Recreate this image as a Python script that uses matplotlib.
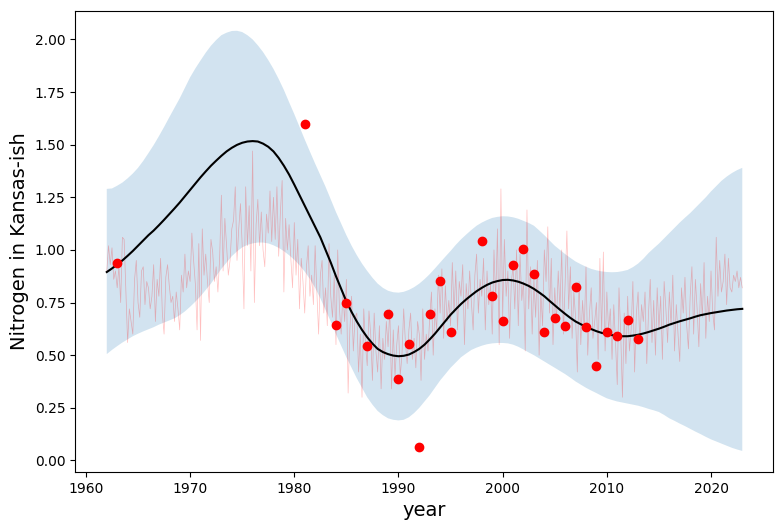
import numpy as np
import matplotlib
matplotlib.use('Agg')
import matplotlib.pyplot as plt

# half-yearly readings of the fitted curve and its band
years = np.arange(1962, 2023.5, 0.5)
mean = [0.895, 0.912, 0.93, 0.95, 0.972, 0.995, 1.02, 1.045, 1.07, 1.092,
        1.117, 1.143, 1.17, 1.197, 1.225, 1.255, 1.285, 1.315, 1.345, 1.373,
        1.40, 1.424, 1.447, 1.468, 1.485, 1.499, 1.509, 1.515, 1.517, 1.515,
        1.505, 1.49, 1.468, 1.437, 1.40, 1.358, 1.31, 1.26, 1.21, 1.16,
        1.11, 1.06, 1.00, 0.94, 0.875, 0.815, 0.755, 0.705, 0.66, 0.62,
        0.585, 0.555, 0.53, 0.515, 0.505, 0.498, 0.495, 0.497, 0.503, 0.515,
        0.53, 0.55, 0.575, 0.602, 0.632, 0.662, 0.692, 0.718, 0.743, 0.765,
        0.785, 0.804, 0.82, 0.834, 0.845, 0.852, 0.857, 0.858, 0.855, 0.849,
        0.84, 0.829, 0.815, 0.798, 0.78, 0.758, 0.737, 0.716, 0.696, 0.677,
        0.66, 0.647, 0.635, 0.624, 0.614, 0.606, 0.60, 0.595, 0.592, 0.59,
        0.59, 0.593, 0.597, 0.603, 0.61, 0.618, 0.626, 0.635, 0.645, 0.653,
        0.661, 0.668, 0.675, 0.683, 0.69, 0.695, 0.70, 0.704, 0.708, 0.712,
        0.715, 0.718, 0.72]
upper = [1.29, 1.292, 1.305, 1.32, 1.34, 1.363, 1.39, 1.423, 1.46, 1.498,
         1.54, 1.584, 1.63, 1.675, 1.72, 1.77, 1.82, 1.862, 1.90, 1.937,
         1.97, 1.997, 2.02, 2.032, 2.04, 2.041, 2.035, 2.02, 2.00, 1.972,
         1.94, 1.902, 1.86, 1.812, 1.76, 1.702, 1.645, 1.585, 1.525, 1.467,
         1.41, 1.355, 1.30, 1.24, 1.18, 1.125, 1.07, 1.02, 0.975, 0.935,
         0.90, 0.868, 0.84, 0.82, 0.806, 0.799, 0.797, 0.801, 0.81, 0.823,
         0.84, 0.861, 0.885, 0.912, 0.94, 0.968, 0.995, 1.024, 1.05, 1.073,
         1.095, 1.115, 1.13, 1.142, 1.152, 1.157, 1.16, 1.159, 1.155, 1.148,
         1.138, 1.128, 1.115, 1.093, 1.07, 1.045, 1.02, 1.00, 0.98, 0.962,
         0.945, 0.932, 0.92, 0.91, 0.903, 0.898, 0.895, 0.894, 0.895, 0.899,
         0.905, 0.918, 0.935, 0.958, 0.985, 1.008, 1.03, 1.055, 1.08, 1.105,
         1.13, 1.153, 1.175, 1.20, 1.225, 1.25, 1.278, 1.303, 1.328, 1.348,
         1.365, 1.379, 1.39]
lower = [0.505, 0.525, 0.543, 0.56, 0.575, 0.59, 0.602, 0.613, 0.623, 0.633,
         0.645, 0.655, 0.665, 0.675, 0.69, 0.708, 0.73, 0.754, 0.78, 0.81,
         0.84, 0.875, 0.91, 0.94, 0.97, 0.993, 1.012, 1.024, 1.031, 1.035,
         1.035, 1.031, 1.022, 1.01, 0.994, 0.975, 0.953, 0.927, 0.897, 0.862,
         0.82, 0.77, 0.715, 0.66, 0.60, 0.545, 0.49, 0.44, 0.39, 0.345,
         0.30, 0.265, 0.235, 0.215, 0.20, 0.193, 0.19, 0.193, 0.205, 0.225,
         0.25, 0.28, 0.31, 0.345, 0.38, 0.41, 0.44, 0.465, 0.49, 0.508,
         0.525, 0.536, 0.545, 0.552, 0.556, 0.558, 0.558, 0.556, 0.55, 0.54,
         0.527, 0.513, 0.50, 0.485, 0.47, 0.455, 0.44, 0.425, 0.41, 0.393,
         0.375, 0.36, 0.345, 0.332, 0.32, 0.307, 0.295, 0.287, 0.28, 0.275,
         0.27, 0.265, 0.26, 0.253, 0.245, 0.238, 0.23, 0.216, 0.20, 0.188,
         0.175, 0.163, 0.15, 0.137, 0.125, 0.112, 0.10, 0.09, 0.08, 0.07,
         0.06, 0.052, 0.045]

# red dots
obs_years = [1963, 1981, 1984, 1985, 1987, 1989, 1990, 1991, 1992, 1993,
             1994, 1995, 1998, 1999, 2000, 2001, 2002, 2003, 2004, 2005,
             2006, 2007, 2008, 2009, 2010, 2011, 2012, 2013]
obs_values = [0.94, 1.60, 0.645, 0.75, 0.545, 0.695, 0.385, 0.555, 0.065, 0.695,
              0.85, 0.61, 1.04, 0.78, 0.66, 0.93, 1.005, 0.885, 0.61, 0.675,
              0.64, 0.825, 0.635, 0.45, 0.61, 0.59, 0.665, 0.575]

# thin noisy line, six readings per year
thin = [
    0.90, 1.02, 0.93, 1.01, 0.86, 0.90,
    0.82, 0.92, 0.75, 1.06, 1.05, 0.80,
    0.56, 0.72, 0.66, 0.60, 0.86, 0.95,
    0.75, 0.68, 0.90, 0.92, 0.74, 0.85,
    0.82, 0.72, 0.78, 0.93, 0.66, 0.86,
    0.78, 0.96, 0.70, 0.60, 0.87, 0.93,
    0.83, 0.75, 0.78, 0.66, 0.80, 0.72,
    0.62, 0.88, 0.80, 0.98, 0.82, 0.90,
    0.85, 1.08, 0.95, 0.84, 0.62, 1.03,
    0.57, 1.10, 0.88, 0.98, 0.85, 0.75,
    1.05, 0.99, 0.85, 0.92, 0.80, 0.96,
    1.26, 0.90, 1.15, 1.02, 0.88, 0.95,
    1.10, 1.14, 1.30, 0.95, 1.10, 1.22,
    1.02, 0.72, 1.30, 1.02, 1.21, 0.90,
    1.47, 0.75, 1.12, 1.24, 1.02, 1.18,
    1.00, 0.92, 1.17, 1.08, 1.28, 1.04,
    1.25, 1.05, 1.30, 0.97, 1.18, 1.33,
    0.80, 1.15, 1.00, 1.12, 0.96, 0.82,
    1.13, 0.88, 1.05, 0.72, 0.96, 0.85,
    0.70, 0.92, 1.02, 0.78, 0.88, 0.74,
    1.02, 0.80, 0.60, 0.88, 0.95, 0.70,
    0.82, 0.64, 1.03, 0.78, 0.68, 0.88,
    0.55, 1.00, 0.72, 0.60, 0.80, 0.66,
    0.86, 0.32, 0.62, 0.78, 0.52, 0.68,
    0.70, 0.42, 0.60, 0.30, 0.72, 0.55,
    0.45, 0.71, 0.60, 0.38, 0.70, 0.52,
    0.42, 0.64, 0.34, 0.58, 0.48, 0.66,
    0.54, 0.72, 0.34, 0.62, 0.40, 0.55,
    0.64, 0.40, 0.50, 0.72, 0.56, 0.46,
    0.62, 0.70, 0.48, 0.58, 0.44, 0.66,
    0.60, 0.38, 0.72, 0.48, 0.60, 0.52,
    0.68, 0.80, 0.50, 0.72, 0.62, 0.88,
    0.70, 0.91, 0.58, 0.83, 0.66, 0.76,
    0.64, 0.94, 0.70, 0.90, 0.62, 0.85,
    0.78, 0.93, 0.55, 0.84, 0.72, 0.90,
    0.75, 0.62, 0.88, 0.98, 0.70, 0.86,
    0.78, 0.96, 0.62, 0.90, 0.74, 0.84,
    0.60, 1.00, 0.76, 1.10, 0.55, 1.29,
    0.68, 1.05, 0.78, 0.90, 0.58, 0.85,
    0.92, 0.72, 1.00, 0.64, 0.98, 0.76,
    0.85, 0.52, 1.19, 0.72, 0.92, 0.60,
    0.86, 0.68, 0.95, 0.50, 0.80, 0.64,
    1.00, 0.85, 1.11, 0.70, 0.96, 0.55,
    0.82, 0.66, 0.90, 0.72, 1.00, 0.60,
    0.84, 1.09, 0.72, 0.92, 0.58, 0.80,
    0.68, 0.42, 0.85, 0.55, 0.76, 0.62,
    0.92, 0.50, 0.70, 0.82, 0.58, 0.66,
    0.75, 0.48, 0.96, 0.60, 0.99, 0.52,
    0.80, 0.62, 0.72, 0.48, 0.74, 0.56,
    0.36, 0.82, 0.60, 0.30, 0.70, 0.46,
    0.78, 0.52, 0.62, 0.85, 0.42, 0.70,
    0.80, 0.56, 0.74, 0.66, 0.80, 0.46,
    0.70, 0.86, 0.56, 0.76, 0.50, 0.82,
    0.62, 0.78, 0.48, 0.85, 0.72, 0.56,
    0.80, 0.64, 0.88, 0.52, 0.74, 0.60,
    0.47, 0.82, 0.70, 0.87, 0.64, 0.53,
    0.78, 0.92, 0.60, 0.86, 0.72, 0.54,
    0.84, 0.68, 0.94, 0.58, 0.78, 0.66,
    0.90, 0.70, 0.62, 1.06, 0.78, 0.95,
    0.80, 0.85, 0.98, 0.74, 0.96, 0.82,
    0.80, 0.88, 0.85, 0.90, 0.82, 0.87,
    0.82,
]

fig = plt.figure(figsize=(7.82, 5.3), dpi=100)
ax = fig.add_axes([75 / 782, 1 - 472 / 530, 698 / 782, 461 / 530])

ax.plot(np.linspace(1962, 2023, len(thin)), thin, color='red', lw=0.5, alpha=0.25)
ax.fill_between(years, lower, upper, alpha=0.2, lw=0)
ax.plot(years, mean, color='black')
ax.scatter(obs_years, obs_values, color='red', zorder=3)

ax.set_xlim(1958.95, 2025.95)
ax.set_ylim(-0.055, 2.135)
ax.set_xlabel('year', fontsize=14)
ax.set_ylabel('Nitrogen in Kansas-ish', fontsize=14)

plt.savefig('out.png', dpi=100)
